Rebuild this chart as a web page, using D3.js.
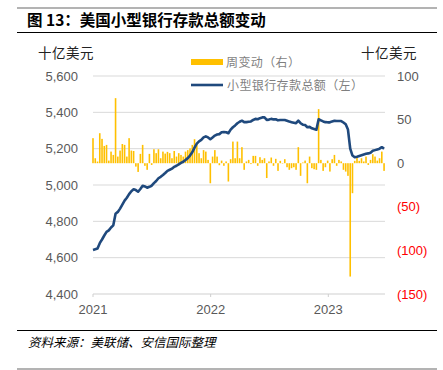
<!DOCTYPE html>
<html>
<head>
<meta charset="utf-8">
<script src="https://cdn.jsdelivr.net/npm/d3@7"></script>
<style>
  body { margin: 0; background: #fff; }
  svg { display: block; }
  text { font-family: "Liberation Sans", Arial, sans-serif; }
  .cjk { font-family: "Noto Sans CJK SC", sans-serif; }
</style>
</head>
<body>
<div id="chart"></div>
<script>

// weekly change, billions (right axis), one per week from 2021-01-01
let weeklyChange = [
    28.7, 5.7, 1.9, 34.4, 27.9, 19.8, 21, 3, 13.3, 9.5,
    74.6, 7.6, 14.5, 22, 21, 7.6, 28.7, 14.5, 14, -3.9,
    -10, 10.7, 21, -3, -7.6, 10.7, -2, 16, 11.5, 16,
    5.7, 13.3, 11, 13, 11.5, 5.7, 14, 7.6, 11.5, 9.5,
    7.6, 13.3, 15, 17, 21, 27.5, 23, 11.5, 5.7, 15,
    13.3, 3.8, -23, 7.6, 15, 7.6, -2.3, 3, -3, 2,
    -21, 4.6, 24.8, 5.7, 24.8, 5.7, 18.4, -7.6, 2, 3.8,
    -1, 8.4, 8.4, -3, 6.9, 3.8, 5.7, -17, 2, 6.5,
    -3, 5, -8.8, 2.7, -0.5, 4.6, -4.6, -7.6, -5.7, -4.6,
    -7.6, 18.4, -14.5, 0.8, 3, -23, 7.6, -5.7, -6.9, -7.6,
    62, 3.8, -8.8, -4.6, 3, -9.6, 4.6, 9.5, -3, 3.8,
    2, -7.6, -9.6, -14.5, -130, -34.4, 2.7, 6.5, 2.7, 5.7,
    2, 7.6, -2, 3.8, 10.3, 7.6, 3, 5.7, 13.3, -8.8
];

// total deposits of small banks, billions (left axis)
let totalDeposits = [
    4642, 4646, 4650, 4680, 4700, 4722, 4742, 4750, 4766, 4778,
    4842, 4852, 4870, 4892, 4914, 4930, 4950, 4966, 4976, 4972,
    4963, 4978, 4996, 4992, 4985, 4990, 4996, 5010, 5022, 5037,
    5045, 5055, 5066, 5078, 5084, 5090, 5100, 5106, 5114, 5122,
    5128, 5138, 5148, 5162, 5180, 5206, 5228, 5240, 5248, 5262,
    5268, 5262, 5252, 5262, 5272, 5278, 5280, 5290, 5292, 5290,
    5285, 5305, 5318, 5328, 5340, 5348, 5354, 5346, 5346, 5348,
    5350, 5358, 5364, 5362, 5368, 5372, 5372, 5358, 5360, 5364,
    5361, 5362, 5356, 5358, 5358, 5358, 5354, 5349, 5346, 5343,
    5340, 5354, 5340, 5332, 5330, 5318, 5320, 5312, 5308, 5304,
    5362, 5356, 5350, 5346, 5345, 5345, 5350, 5354, 5352, 5352,
    5352, 5344, 5334, 5305, 5200, 5162, 5153, 5156, 5160, 5164,
    5168, 5172, 5174, 5178, 5188, 5192, 5196, 5200, 5208, 5200
];

let leftTicks = [4400, 4600, 4800, 5000, 5200, 5400, 5600];
let rightTicks = [-150, -100, -50, 0, 50, 100];
let yearTicks = ["2021", "2022", "2023"];

let firstWeek = new Date(2021, 0, 1);
let weeks = weeklyChange.map((d, i) => d3.timeDay.offset(firstWeek, 7 * i));

let width = 443;
let height = 370;
let plot = {left: 93, right: 385, top: 76, bottom: 294};

let svg = d3.select("#chart").append("svg")
    .attr("width", width)
    .attr("height", height);

let x = d3.scaleTime()
    .domain([new Date(2021, 0, 1), new Date(2023, 0, 1)])
    .range([plot.left, 328.3]);
let yLeft = d3.scaleLinear().domain([4400, 5600]).range([plot.bottom, plot.top]);
let yRight = d3.scaleLinear().domain([-150, 100]).range([plot.bottom, plot.top]);

// frame lines and title
svg.append("line").attr("x1", 17).attr("x2", 437).attr("y1", 8).attr("y2", 8)
    .attr("stroke", "#9a9a9a").attr("stroke-width", 1.3);
svg.append("text").attr("class", "cjk")
    .attr("x", 27).attr("y", 26)
    .attr("font-size", 15.5).attr("font-weight", "bold").attr("fill", "#000")
    .text("图 13：美国小型银行存款总额变动");
svg.append("line").attr("x1", 17).attr("x2", 437).attr("y1", 32.5).attr("y2", 32.5)
    .attr("stroke", "#000").attr("stroke-width", 1);

// units
svg.append("text").attr("class", "cjk").attr("x", 38).attr("y", 58)
    .attr("font-size", 13.5).attr("fill", "#222").attr("letter-spacing", 0.5)
    .text("十亿美元");
svg.append("text").attr("class", "cjk").attr("x", 361).attr("y", 58)
    .attr("font-size", 13.5).attr("fill", "#222").attr("letter-spacing", 0.5)
    .text("十亿美元");

// grid
svg.append("g")
    .selectAll("line")
    .data(leftTicks.slice(1))
    .join("line")
        .attr("x1", plot.left).attr("x2", plot.right)
        .attr("y1", d => yLeft(d)).attr("y2", d => yLeft(d))
        .attr("stroke", "#d9d9d9").attr("stroke-width", 1);

// x axis
let xAxis = svg.append("g").attr("transform", `translate(0,${plot.bottom})`);
xAxis.append("line").attr("x1", plot.left).attr("x2", plot.right)
    .attr("stroke", "#cfcfcf").attr("stroke-width", 1);
xAxis.selectAll("line.tick")
    .data(yearTicks)
    .join("line")
        .attr("class", "tick")
        .attr("x1", d => x(new Date(+d, 0, 1))).attr("x2", d => x(new Date(+d, 0, 1)))
        .attr("y1", 0).attr("y2", 3)
        .attr("stroke", "#cfcfcf");
xAxis.selectAll("text")
    .data(yearTicks)
    .join("text")
        .attr("x", d => x(new Date(+d, 0, 1)))
        .attr("y", 20)
        .attr("text-anchor", "middle")
        .attr("font-size", 13).attr("fill", "#595959")
        .text(d => d);

// left axis labels
svg.append("g")
    .selectAll("text")
    .data(leftTicks)
    .join("text")
        .attr("x", 78)
        .attr("y", d => yLeft(d) + 4.5)
        .attr("text-anchor", "end")
        .attr("font-size", 13).attr("fill", "#595959")
        .text(d => d3.format(",")(d));

// right axis labels, negatives in red with brackets
svg.append("g")
    .selectAll("text")
    .data(rightTicks)
    .join("text")
        .attr("x", 397)
        .attr("y", d => yRight(d) + 4.5)
        .attr("font-size", 13)
        .attr("fill", d => d < 0 ? "#ff0000" : "#595959")
        .text(d => d < 0 ? "(" + (-d) + ")" : d);

// weekly change bars
svg.append("g")
    .selectAll("rect")
    .data(weeklyChange)
    .join("rect")
        .attr("x", (d, i) => x(weeks[i]) - 0.8)
        .attr("width", 1.6)
        .attr("y", d => yRight(Math.max(0, d)))
        .attr("height", d => Math.abs(yRight(d) - yRight(0)))
        .attr("fill", "#ffc000");

// total deposits line
let line = d3.line()
    .x((d, i) => x(weeks[i]))
    .y(d => yLeft(d));
svg.append("path")
    .datum(totalDeposits)
    .attr("d", line)
    .attr("fill", "none")
    .attr("stroke", "#1f497d")
    .attr("stroke-width", 2.6)
    .attr("stroke-linejoin", "round");

// legend
let legend = svg.append("g");
legend.append("rect").attr("x", 191).attr("y", 59).attr("width", 32).attr("height", 6)
    .attr("fill", "#ffc000");
legend.append("text").attr("class", "cjk").attr("x", 226).attr("y", 66.5)
    .attr("font-size", 12).attr("fill", "#7f7f7f").attr("letter-spacing", 0.4)
    .text("周变动（右）");
legend.append("line").attr("x1", 191).attr("x2", 223).attr("y1", 85).attr("y2", 85)
    .attr("stroke", "#1f497d").attr("stroke-width", 2.6);
legend.append("text").attr("class", "cjk").attr("x", 227).attr("y", 89.5)
    .attr("font-size", 12).attr("fill", "#7f7f7f").attr("letter-spacing", 0.4)
    .text("小型银行存款总额（左）");

// source
svg.append("line").attr("x1", 17).attr("x2", 437).attr("y1", 330.5).attr("y2", 330.5)
    .attr("stroke", "#000").attr("stroke-width", 1);
svg.append("text").attr("class", "cjk")
    .attr("x", 28).attr("y", 347)
    .attr("font-size", 12.5).attr("font-style", "italic").attr("fill", "#000")
    .text("资料来源：美联储、安信国际整理");
svg.append("line").attr("x1", 17).attr("x2", 437).attr("y1", 369).attr("y2", 369)
    .attr("stroke", "#9a9a9a").attr("stroke-width", 1.3);
</script>
</body>
</html>
